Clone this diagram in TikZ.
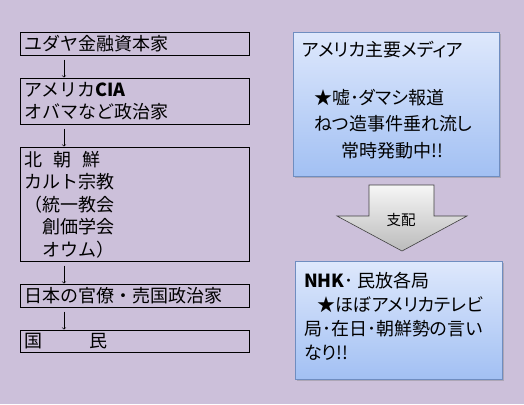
\documentclass[tikz,border=0pt]{standalone}
\usepackage{fontspec}
\setmainfont{Noto Sans CJK JP}
\newfontfamily\propfont{Noto Sans CJK JP}[RawFeature=+palt]
\usetikzlibrary{shadows}
\definecolor{lavender}{HTML}{CCC0DA}
\definecolor{mediatop}{HTML}{DEE8FC}
\definecolor{mediabottom}{HTML}{A2C0F3}
\definecolor{mediaedge}{HTML}{6F8DC0}
\definecolor{ruletop}{HTML}{F6F6F6}
\definecolor{rulebottom}{HTML}{BBBBBB}
\tikzset{
  media/.style={shape=rectangle, draw=mediaedge, top color=mediatop, bottom color=mediabottom,
    drop shadow={shadow xshift=2pt, shadow yshift=-2pt, opacity=.4}, anchor=north west, inner sep=0pt},
  mediatext/.style={inner sep=0pt, anchor=west, align=left}
}
\begin{document}
\begin{tikzpicture}[x=1pt,y=-1pt]
\fill[lavender] (0,0) rectangle (524,404);
\useasboundingbox (0,0) rectangle (524,404);
% chain of command
\begin{scope}[nodes={shape=rectangle, draw, line width=.7pt, anchor=north west, text width=221pt,
    inner xsep=4pt, inner ysep=0pt, align=left, font=\fontsize{18}{22.5}\selectfont}]
  \node[minimum height=23pt]  (capital)   at (20, 32) {ユダヤ金融資本家};
  \node[minimum height=46pt]  (cia)       at (20, 78) {アメリカ\textbf{CIA}\\オバマなど政治家};
  \node[minimum height=114pt] (cult)      at (20,147) {北\hspace{11pt}朝\hspace{11pt}鮮\\カルト宗教\\（統一教会\\　創価学会\\　オウム）};
  \node[minimum height=23pt]  (officials) at (20,284) {日本の官僚・売国政治家};
  \node[minimum height=22pt]  (people)    at (20,330) {国\hspace{47pt}民};
\end{scope}
\foreach \a/\b in {capital/cia, cia/cult, cult/officials, officials/people}
  \draw[->, line width=.6pt] ([xshift=44pt,yshift=-4pt]\a.south west) -- ([xshift=44pt,yshift=.5pt]\b.north west);
% media side
\node[media, minimum width=206pt, minimum height=144pt] (usmedia) at (293,32) {};
\node[mediatext, font=\propfont\fontsize{18}{26.5}\selectfont] (mediatitle) at (302,50) {アメリカ主要メディア};
\node[mediatext, font=\propfont\fontsize{18}{26.5}\selectfont] (mediabody) at (314,124)
  {★嘘･ダマシ報道\\ねつ造事件垂れ流し\\\hspace*{27pt}常時発動中!!};
\shadedraw[top color=ruletop, bottom color=rulebottom, draw=black!75, line width=.6pt]
  (369,185) -- (434,185) -- (434,216) -- (467,216) -- (402,251) -- (337,216) -- (369,216) -- cycle;
\node[font=\propfont\fontsize{14.5}{18}\selectfont] (rule) at (401,220) {支配};
\node[media, minimum width=207pt, minimum height=118pt] (nhk) at (295,261) {};
\node[mediatext, font=\propfont\fontsize{18}{24}\selectfont] (nhktext) at (304,316)
  {\textbf{NHK}･ 民放各局\\\hspace*{13pt}★ほぼアメリカテレビ\\局･在日･朝鮮勢の言い\\なり!!};
\end{tikzpicture}
\end{document}
